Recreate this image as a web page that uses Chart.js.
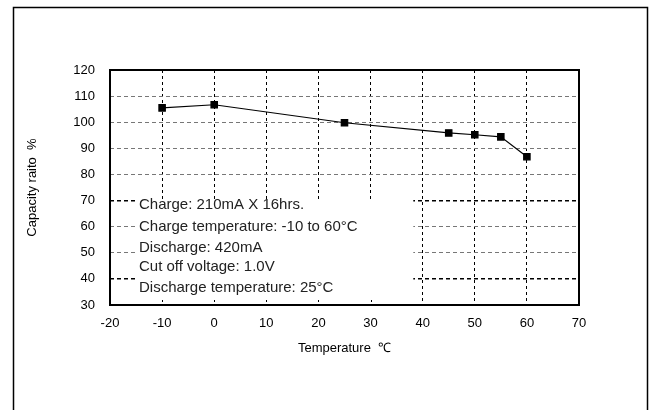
<!DOCTYPE html>
<html>
<head>
<meta charset="utf-8">
<script src="https://cdn.jsdelivr.net/npm/chart.js@4"></script>
<style>
  html, body { margin: 0; padding: 0; background: #fff; }
  #wrap { width: 653px; height: 410px; }
</style>
</head>
<body>
<div id="wrap"><canvas id="c" width="653" height="410"></canvas></div>
<script>
const temps = [-10, 0, 25, 45, 50, 55, 60];
const capacity = [105.5, 106.7, 99.8, 95.9, 95.2, 94.4, 86.8];
const xTicks = [-20, -10, 0, 10, 20, 30, 40, 50, 60, 70];
const yTicks = [30, 40, 50, 60, 70, 80, 90, 100, 110, 120];
const noteLines = [
    'Charge: 210mA X 16hrs.',
    'Charge temperature: -10 to 60°C',
    'Discharge: 420mA',
    'Cut off voltage: 1.0V',
    'Discharge temperature: 25°C'
];

const FONT = '"Liberation Sans", Arial, sans-serif';

// outer frame + plot border
const framePlugin = {
    id: 'frame',
    beforeDraw(chart) {
        const c = chart.ctx;
        c.save();
        c.fillStyle = '#fff';
        c.fillRect(0, 0, chart.width, chart.height);
        c.strokeStyle = '#000';
        c.lineWidth = 1.5;
        c.strokeRect(13.5, 7.5, 634, 430);
        c.restore();
    },
    afterDraw(chart) {
        const a = chart.chartArea;
        const c = chart.ctx;
        c.save();
        c.strokeStyle = '#000';
        c.lineWidth = 2;
        c.strokeRect(a.left, a.top, a.right - a.left, a.bottom - a.top);
        c.restore();
    }
};

// white note box over the grid
const notePlugin = {
    id: 'note',
    beforeDatasetsDraw(chart) {
        const c = chart.ctx;
        const x = chart.scales.x, y = chart.scales.y;
        c.save();
        c.fillStyle = '#fff';
        c.fillRect(x.getPixelForValue(-15.2), y.getPixelForValue(70.5),
                   x.getPixelForValue(38.2) - x.getPixelForValue(-15.2),
                   y.getPixelForValue(31.5) - y.getPixelForValue(70.5));
        c.fillStyle = '#222';
        c.font = '15px ' + FONT;
        c.textBaseline = 'middle';
        const ys = [205, 227, 248, 267, 288];
        noteLines.forEach((t, i) => c.fillText(t, 139, ys[i]));
        // short inward tick marks along the bottom axis inside the box
        c.strokeStyle = '#000';
        c.lineWidth = 1;
        c.setLineDash([2, 2]);
        [-10, 0, 10, 20, 30].forEach(v => {
            const px = Math.round(x.getPixelForValue(v)) + 0.5;
            c.beginPath();
            c.moveTo(px, chart.chartArea.bottom - 5);
            c.lineTo(px, chart.chartArea.bottom);
            c.stroke();
        });
        c.restore();
    }
};

new Chart(document.getElementById('c'), {
    type: 'line',
    data: {
        datasets: [{
            data: temps.map((t, i) => ({ x: t, y: capacity[i] })),
            borderColor: '#000',
            borderWidth: 1.2,
            backgroundColor: '#000',
            pointStyle: 'rect',
            pointRadius: 4.5,
            tension: 0
        }]
    },
    options: {
        responsive: false,
        animation: false,
        layout: { padding: { left: 0, top: 70, right: 74, bottom: 50 } },
        plugins: { legend: { display: false }, tooltip: { enabled: false } },
        scales: {
            x: {
                type: 'linear',
                min: -20, max: 70,
                afterBuildTicks(s) { s.ticks = xTicks.map(v => ({ value: v })); },
                afterFit(s) { s.height = 55; },
                ticks: { color: '#000', font: { family: FONT, size: 13 }, padding: 11 },
                grid: {
                    drawTicks: false,
                    color: ctx => (ctx.tick.value > -20 && ctx.tick.value < 70) ? '#000' : 'rgba(0,0,0,0)',
                    lineWidth: 1
                },
                border: { display: false, dash: [3, 3] },
                title: { display: true, text: 'Temperature  ℃', color: '#000', font: { family: FONT, size: 13 }, padding: { top: 1 } }
            },
            y: {
                min: 30, max: 120,
                afterBuildTicks(s) { s.ticks = yTicks.map(v => ({ value: v })); },
                afterFit(s) { s.width = 110; },
                ticks: { color: '#000', font: { family: FONT, size: 13 }, padding: 15 },
                grid: {
                    drawTicks: false,
                    color: ctx => {
                        const v = ctx.tick.value;
                        if (v <= 30 || v >= 120) return 'rgba(0,0,0,0)';
                        return (v === 70 || v === 40) ? '#000' : '#777';
                    },
                    lineWidth: ctx => (ctx.tick.value === 70 || ctx.tick.value === 40) ? 1.6 : 1
                },
                border: { display: false, dash: [4, 3] },
                title: { display: true, text: 'Capacity raito  %', color: '#000', font: { family: FONT, size: 13 }, padding: { top: 25, bottom: 0 } }
            }
        }
    },
    plugins: [framePlugin, notePlugin]
});
</script>
</body>
</html>
